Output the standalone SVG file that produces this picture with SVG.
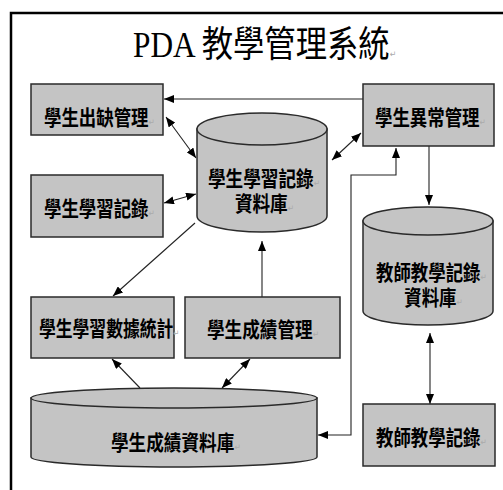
<svg xmlns="http://www.w3.org/2000/svg" width="503" height="490" viewBox="0 0 503 490">
<defs>
<marker id="ah" viewBox="0 0 10 8" refX="10" refY="4" markerWidth="10" markerHeight="8" markerUnits="userSpaceOnUse" orient="auto-start-reverse">
<path d="M0,0 L10,4 L0,8 Z" fill="#000"/>
</marker>
</defs>
<style>
.box{fill:#c4c4c4;stroke:#2a2a2a;stroke-width:1.5}
.db{fill:#c4c4c4;stroke:#2a2a2a;stroke-width:1.5}
.lbl{font-family:"Noto Sans CJK TC","Noto Sans CJK SC",sans-serif;font-size:21px;font-weight:700;fill:#000}
.lbl2{font-family:"Liberation Sans","Noto Sans CJK TC","Noto Sans CJK SC",sans-serif;font-size:21px;font-weight:700;fill:#000}
.rm{font-family:"DejaVu Sans",sans-serif;font-size:9px;font-weight:400;fill:#aaa}
.c{fill:none;stroke:#222;stroke-width:1.1}
.title{font-family:"Liberation Serif","Noto Sans CJK TC",serif;font-size:36px;fill:#000}
</style>
<rect width="503" height="490" fill="#fff"/>
<g id="frame">
<path d="M11,490 V13 H503" fill="none" stroke="#000" stroke-width="2.5"/>
</g>
<g id="title">
<text class="title" transform="translate(133,57) scale(0.87,1)">PDA 教學管理系統<tspan class="rm" font-size="10">↵</tspan></text>
</g>
<g id="connectors">
<line class="c" x1="363" y1="99" x2="164" y2="99" marker-end="url(#ah)"/>
<line class="c" x1="166" y1="117" x2="196" y2="158" marker-start="url(#ah)" marker-end="url(#ah)"/>
<line class="c" x1="361" y1="133" x2="332" y2="160" marker-start="url(#ah)" marker-end="url(#ah)"/>
<line class="c" x1="164" y1="203" x2="196" y2="194" marker-start="url(#ah)" marker-end="url(#ah)"/>
<line class="c" x1="195" y1="223" x2="113" y2="296" marker-end="url(#ah)"/>
<line class="c" x1="262" y1="297" x2="262" y2="241" marker-end="url(#ah)"/>
<line class="c" x1="429" y1="146" x2="429" y2="205" marker-end="url(#ah)"/>
<line class="c" x1="430" y1="333" x2="430" y2="404" marker-start="url(#ah)" marker-end="url(#ah)"/>
<path class="c" d="M396,148 V175 H351 V435 H318" marker-start="url(#ah)" marker-end="url(#ah)"/>
<line class="c" x1="140" y1="388" x2="112" y2="359" marker-end="url(#ah)"/>
<line class="c" x1="222" y1="388" x2="250" y2="359" marker-start="url(#ah)" marker-end="url(#ah)"/>
</g>
<g id="n_attendance">
<rect class="box" x="31" y="84" width="132" height="51"/>
<text class="lbl" transform="translate(44,125) scale(0.83,1)">學生出缺管理<tspan class="rm">↵</tspan></text>
</g>
<g id="n_abnormal">
<rect class="box" x="363" y="84" width="131" height="62"/>
<text class="lbl" transform="translate(375,125) scale(0.83,1)">學生異常管理<tspan class="rm">↵</tspan></text>
</g>
<g id="n_learnrec">
<rect class="box" x="31" y="175" width="132" height="62"/>
<text class="lbl" transform="translate(44,216) scale(0.83,1)">學生學習記錄<tspan class="rm">↵</tspan></text>
</g>
<g id="n_learndb">
<path class="db" d="M197,129 V216 A65,16 0 0 0 327,216 V129 Z"/>
<ellipse class="db" cx="262" cy="129" rx="65" ry="16"/>
<text class="lbl2" transform="translate(208,186) scale(0.84,1)"><tspan x="0" y="0">學生學習記錄<tspan class="rm">↵</tspan></tspan><tspan x="32" y="25">資料庫<tspan class="rm">↵</tspan></tspan></text>
</g>
<g id="n_stats">
<rect class="box" x="31" y="297" width="143" height="61"/>
<text class="lbl" transform="translate(39,336) scale(0.8,1)">學生學習數據統計<tspan class="rm">↵</tspan></text>
</g>
<g id="n_grademgmt">
<rect class="box" x="185" y="297" width="155" height="61"/>
<text class="lbl" transform="translate(207,337) scale(0.84,1)">學生成績管理<tspan class="rm">↵</tspan></text>
</g>
<g id="n_teachdb">
<path class="db" d="M363,221 V311 A65,14 0 0 0 493,311 V221 Z"/>
<ellipse class="db" cx="428" cy="221" rx="65" ry="14"/>
<text class="lbl2" transform="translate(376,280) scale(0.83,1)"><tspan x="0" y="0">教師教學記錄<tspan class="rm">↵</tspan></tspan><tspan x="34" y="25">資料庫<tspan class="rm">↵</tspan></tspan></text>
</g>
<g id="n_gradedb">
<path class="db" d="M31,398 V457 A143,10 0 0 0 317,457 V398 Z"/>
<ellipse class="db" cx="174" cy="398" rx="143" ry="10"/>
<text class="lbl" transform="translate(111,450) scale(0.84,1)">學生成績資料庫<tspan class="rm">↵</tspan></text>
</g>
<g id="n_teachrec">
<rect class="box" x="363" y="404" width="132" height="62"/>
<text class="lbl" transform="translate(376,445) scale(0.83,1)">教師教學記錄<tspan class="rm">↵</tspan></text>
</g>
</svg>
